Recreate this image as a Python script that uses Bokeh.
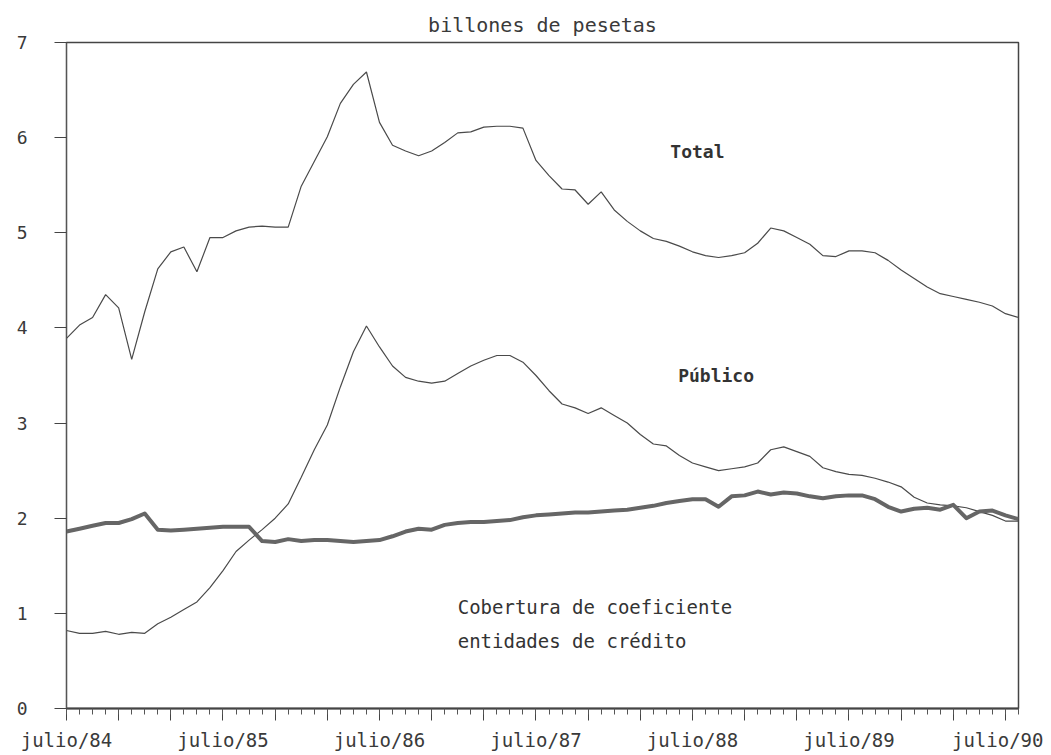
from bokeh.plotting import figure
from bokeh.models import FixedTicker, Label
from bokeh.embed import file_html
from bokeh.resources import INLINE

# months since julio/84 (0 = julio/84 ... 73 = agosto/90)
months = list(range(74))
label_months = [0, 12, 24, 36, 48, 60, 72]
tick_labels = ["julio/84", "julio/85", "julio/86", "julio/87", "julio/88", "julio/89", "julio/90"]
y_ticks = [0, 1, 2, 3, 4, 5, 6, 7]

total = [3.89, 4.03, 4.11, 4.35, 4.21, 3.67, 4.17, 4.62, 4.80, 4.85, 4.59, 4.95,
         4.95, 5.02, 5.06, 5.07, 5.06, 5.06, 5.49, 5.75, 6.01, 6.36, 6.56, 6.69,
         6.16, 5.92, 5.86, 5.81, 5.86, 5.95, 6.05, 6.06, 6.11, 6.12, 6.12, 6.10,
         5.76, 5.60, 5.46, 5.45, 5.30, 5.43, 5.24, 5.12, 5.02, 4.94, 4.91, 4.86,
         4.80, 4.76, 4.74, 4.76, 4.79, 4.89, 5.05, 5.02, 4.95, 4.88, 4.76, 4.75,
         4.81, 4.81, 4.79, 4.71, 4.61, 4.52, 4.43, 4.36, 4.33, 4.30, 4.27, 4.23,
         4.15, 4.11]

publico = [0.82, 0.79, 0.79, 0.81, 0.78, 0.80, 0.79, 0.89, 0.96, 1.04, 1.12, 1.27,
           1.45, 1.65, 1.77, 1.88, 2.00, 2.15, 2.43, 2.72, 2.98, 3.38, 3.75, 4.02,
           3.80, 3.60, 3.48, 3.44, 3.42, 3.44, 3.52, 3.60, 3.66, 3.71, 3.71, 3.64,
           3.50, 3.34, 3.20, 3.16, 3.10, 3.16, 3.08, 3.00, 2.88, 2.78, 2.76, 2.66,
           2.58, 2.54, 2.50, 2.52, 2.54, 2.58, 2.72, 2.75, 2.70, 2.65, 2.53, 2.49,
           2.46, 2.45, 2.42, 2.38, 2.33, 2.22, 2.16, 2.14, 2.13, 2.11, 2.07, 2.03,
           1.97, 1.97]

cobertura = [1.86, 1.89, 1.92, 1.95, 1.95, 1.99, 2.05, 1.88, 1.87, 1.88, 1.89, 1.90,
             1.91, 1.91, 1.91, 1.76, 1.75, 1.78, 1.76, 1.77, 1.77, 1.76, 1.75, 1.76,
             1.77, 1.81, 1.86, 1.89, 1.88, 1.93, 1.95, 1.96, 1.96, 1.97, 1.98, 2.01,
             2.03, 2.04, 2.05, 2.06, 2.06, 2.07, 2.08, 2.09, 2.11, 2.13, 2.16, 2.18,
             2.20, 2.20, 2.12, 2.23, 2.24, 2.28, 2.25, 2.27, 2.26, 2.23, 2.21, 2.23,
             2.24, 2.24, 2.20, 2.12, 2.07, 2.10, 2.11, 2.09, 2.14, 2.00, 2.07, 2.08,
             2.03, 1.99]

p = figure(frame_width=952, frame_height=666, x_range=(0, 73), y_range=(0, 7),
           output_backend="svg", toolbar_location=None,
           min_border_left=66, min_border_right=25, min_border_top=42, min_border_bottom=39)

p.background_fill_color = "white"
p.border_fill_color = "white"
p.xgrid.grid_line_color = None
p.ygrid.grid_line_color = None
p.outline_line_color = "#444444"
p.outline_line_width = 1.5

# title
p.title.text = "billones de pesetas"
p.title.align = "center"
p.title.text_font = "DejaVu Sans Mono"
p.title.text_font_style = "normal"
p.title.text_font_size = "20px"
p.title.text_color = "#3a3a3a"
p.title.standoff = 12

# x axis
xa = p.xaxis[0]
xa.ticker = FixedTicker(ticks=list(range(0, 74, 4)), minor_ticks=months)
overrides = {m: "" for m in range(0, 74, 4)}
for m, t in zip(label_months, tick_labels):
    overrides[m] = t
xa.major_label_overrides = overrides
xa.major_tick_in = 0
xa.major_tick_out = 12
xa.minor_tick_in = 0
xa.minor_tick_out = 6
xa.axis_line_width = 2
xa.axis_line_color = "#444444"
xa.major_tick_line_color = "#444444"
xa.minor_tick_line_color = "#555555"
xa.major_label_standoff = 8
xa.major_label_text_font = "DejaVu Sans Mono"
xa.major_label_text_font_size = "19px"
xa.major_label_text_color = "#3a3a3a"

# y axis
ya = p.yaxis[0]
ya.ticker = FixedTicker(ticks=y_ticks, minor_ticks=[])
ya.major_tick_in = 0
ya.major_tick_out = 12
ya.axis_line_color = "#555555"
ya.axis_line_width = 1
ya.major_tick_line_color = "#444444"
ya.major_label_standoff = 27
ya.major_label_text_font = "DejaVu Sans Mono"
ya.major_label_text_font_size = "18px"
ya.major_label_text_color = "#3a3a3a"

# series
p.line(months, total, line_color="#4a4a4a", line_width=1.2)
p.line(months, publico, line_color="#4a4a4a", line_width=1.2)
p.line(months, cobertura, line_color="#666666", line_width=4, line_join="round")

# annotations
ann_font = "DejaVu Sans Mono"
p.add_layout(Label(x=46.3, y=5.85, text="Total", text_font=ann_font, text_font_style="bold",
                   text_font_size="18px", text_color="#333333", text_baseline="middle"))
p.add_layout(Label(x=46.9, y=3.50, text="Público", text_font=ann_font, text_font_style="bold",
                   text_font_size="18px", text_color="#333333", text_baseline="middle"))
p.add_layout(Label(x=30.0, y=1.07, text="Cobertura de coeficiente", text_font=ann_font,
                   text_font_size="19px", text_color="#333333", text_baseline="middle"))
p.add_layout(Label(x=30.0, y=0.71, text="entidades de crédito", text_font=ann_font,
                   text_font_size="19px", text_color="#333333", text_baseline="middle"))

open("out.html", "w").write(file_html(p, INLINE))
